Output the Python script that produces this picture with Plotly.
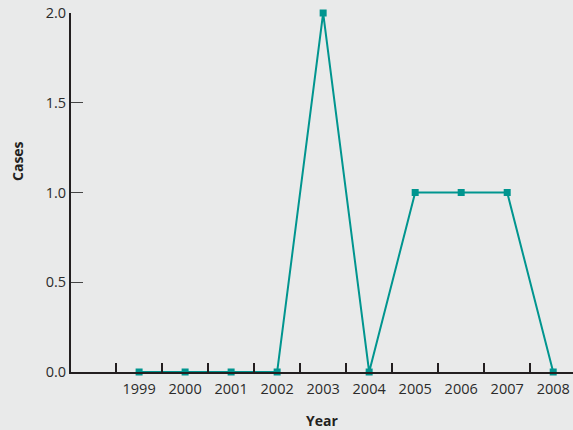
import plotly.graph_objects as go

years = [1999, 2000, 2001, 2002, 2003, 2004, 2005, 2006, 2007, 2008]
cases = [0, 0, 0, 0, 2, 0, 1, 1, 1, 0]
y_ticks = [0.0, 0.5, 1.0, 1.5, 2.0]
y_tick_labels = ["0.0", "0.5", "1.0", "1.5", "2.0"]

teal = "#00958f"
axis_col = "#231f20"
text_col = "#2b2b2b"
font_fam = "Open Sans, sans-serif"

W, H = 573, 430
ML, MR, MT, MB = 71, 0, 13, 58

fig = go.Figure()
fig.add_trace(go.Scatter(
    x=years, y=cases, mode="lines+markers",
    line=dict(color=teal, width=2),
    marker=dict(symbol="square", size=7, color=teal),
    cliponaxis=False, showlegend=False,
))

pw = W - ML - MR
ph = H - MT - MB

fig.update_layout(
    width=W, height=H,
    margin=dict(l=ML, r=MR, t=MT, b=MB, pad=0),
    paper_bgcolor="#e9eaea", plot_bgcolor="#e9eaea",
    font=dict(family=font_fam, size=13, color=text_col),
    xaxis=dict(
        range=[1997.52, 2008.43],
        tickvals=years, ticktext=[str(y) for y in years],
        ticks="outside", ticklen=3, tickcolor="rgba(0,0,0,0)",
        showgrid=False, zeroline=False,
        showline=True, linecolor=axis_col, linewidth=2,
        tickfont=dict(size=14.5, color=text_col),
        minor=dict(tick0=1998.5, dtick=1, ticks="inside", ticklen=9,
                   tickcolor=axis_col, tickwidth=2, showgrid=False),
        title=dict(text="<b>Year</b>", font=dict(size=14, color="#231f20"), standoff=20),
    ),
    yaxis=dict(
        range=[0, 2],
        tickvals=y_ticks, ticktext=y_tick_labels,
        ticks="inside", ticklen=12, tickcolor="#444444", tickwidth=1,
        showgrid=False, zeroline=False,
        showline=True, linecolor=axis_col, linewidth=2,
        tickfont=dict(size=14.5, color=text_col),
    ),
    annotations=[dict(
        text="<b>Cases</b>", x=(17 - ML) / pw, y=(H - MB - 161) / ph,
        xref="paper", yref="paper", xanchor="center", yanchor="middle",
        showarrow=False, textangle=-90, font=dict(size=14, color="#231f20"),
    )],
)

fig.write_html(
    "out.html",
    config={"displayModeBar": False},
    post_script="document.body.style.margin='0';document.body.style.background='#e9eaea';",
)
